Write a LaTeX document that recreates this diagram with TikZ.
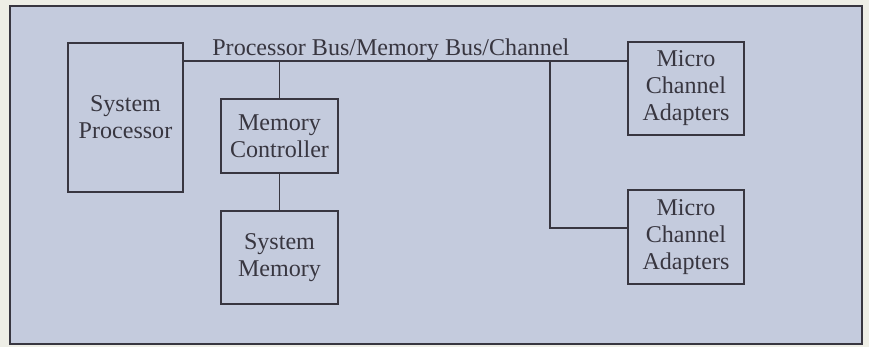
\documentclass[tikz,border=0pt]{standalone}
\usepackage{fontspec}
\setmainfont{Liberation Serif}
\definecolor{panelbg}{RGB}{196,203,221}
\definecolor{paperbg}{RGB}{238,238,230}
\definecolor{inkgray}{RGB}{56,54,64}
\tikzset{
  unitbox/.style={draw=inkgray,line width=0.85pt,align=center,inner sep=0pt,
    font=\fontsize{13.7}{15.4}\selectfont,text=inkgray},
  busline/.style={draw=inkgray,line width=0.75pt}
}
\begin{document}
\begin{tikzpicture}[x=0.02cm,y=-0.02cm,line cap=rect,line join=miter]
  % page and panel
  \fill[paperbg] (0,0) rectangle (869,347);
  \useasboundingbox (0,0) rectangle (869,347);
  \draw[fill=panelbg,draw=inkgray,line width=1.1pt] (10,6) rectangle (862,344);
  % units
  \node[unitbox,minimum width=115*0.02cm,minimum height=149*0.02cm] (sysproc) at (125.5,117.5) {System\\Processor};
  \node[unitbox,minimum width=117*0.02cm,minimum height=74*0.02cm] (memctl) at (279.5,136) {Memory\\Controller};
  \node[unitbox,minimum width=117*0.02cm,minimum height=93*0.02cm] (sysmem) at (279.5,257.5) {System\\Memory};
  \node[unitbox,minimum width=116*0.02cm,minimum height=93*0.02cm] (mcaone) at (686,88.5) {Micro\\Channel\\Adapters};
  \node[unitbox,minimum width=116*0.02cm,minimum height=94*0.02cm] (mcatwo) at (686,237) {Micro\\Channel\\Adapters};
  % bus
  \coordinate (bus) at (0,61);
  \coordinate (tap) at (550,61);
  \coordinate (mcalink) at (0,228);
  \draw[busline] (sysproc.east |- bus) -- (mcaone.west |- bus);
  \node[anchor=base west,inner sep=0pt,font=\fontsize{13.7}{15.4}\selectfont,text=inkgray] (buslabel) at (212,55.5) {Processor Bus/Memory Bus/Channel};
  \draw[busline] (memctl.north) -- (memctl.north |- bus);
  \draw[busline] (memctl.south) -- (sysmem.north);
  \draw[busline] (tap) |- (mcatwo.west |- mcalink);
\end{tikzpicture}
\end{document}
